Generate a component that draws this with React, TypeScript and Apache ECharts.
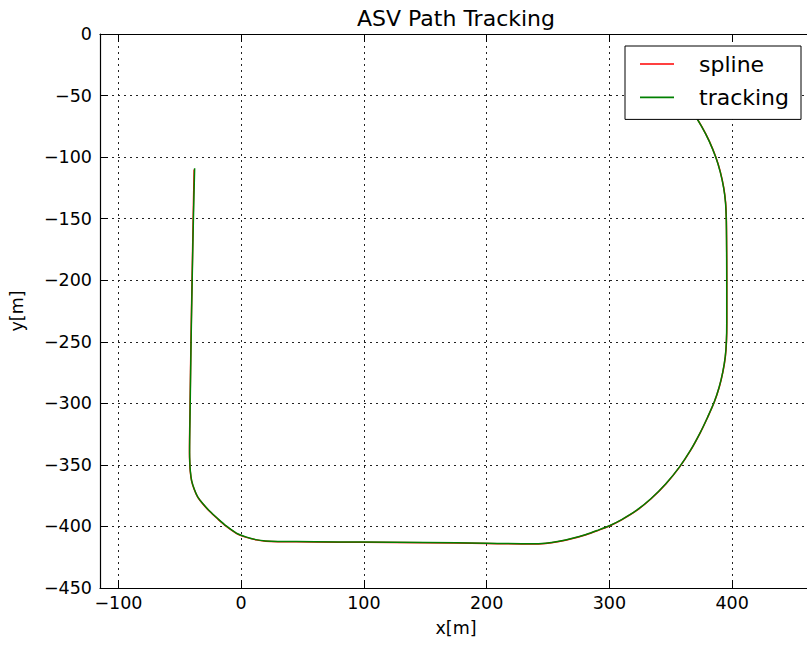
import React, { useEffect, useRef } from "react";
import * as echarts from "echarts";

const TITLE = "ASV Path Tracking";
const X_NAME = "x[m]";
const Y_NAME = "y[m]";
const SERIES_NAMES = ["spline", "tracking"];

// Spline path points [x, y]
const splinePath: number[][] = [
  [-38.3, -110], [-39.1, -150], [-40.0, -200], [-40.9, -250], [-41.6, -300],
  [-42.1, -340], [-41.9, -348], [-41.5, -355], [-40.4, -363], [-38.2, -370],
  [-35.5, -376], [-31.0, -382], [-26.0, -387.5], [-19.0, -394], [-12.0, -400],
  [-4.0, -405.6], [4.3, -408.9], [12, -410.9], [20, -412], [30, -412.4],
  [60, -412.6], [100, -412.9], [150, -413.3], [200, -413.8], [236, -414.3],
  [248, -413.8], [259, -412.2], [270, -409.8], [281, -406.7], [290, -403.5],
  [300, -399.6], [310, -394.6], [322, -387.2], [334, -377.5], [346, -365.5],
  [357, -352], [366, -338.5], [374, -324], [380, -311.5], [385.5, -299],
  [389.5, -287], [392.5, -274.5], [394.5, -262], [395.4, -250], [395.7, -235],
  [395.7, -200], [395.5, -165], [395.3, -150], [394.7, -137], [393.2, -125],
  [390.4, -112], [386.7, -100], [381.4, -87], [375.2, -75], [368.9, -65],
  [358.9, -52], [347.3, -40],
];

// Tracked path points [x, y]
const trackingPath: number[][] = [
  [-37.9, -109], [-38.9, -150], [-39.9, -200], [-40.8, -250], [-41.5, -300],
  [-42.0, -340], [-41.8, -348], [-41.4, -355], [-40.3, -363], [-38.1, -370],
  [-35.4, -375.9], [-30.9, -381.8], [-25.9, -387.3], [-18.9, -393.8], [-11.9, -399.8],
  [-3.9, -405.4], [4.4, -408.7], [12, -410.7], [20, -411.8], [30, -412.2],
  [60, -412.4], [100, -412.7], [150, -413.1], [200, -413.6], [236, -414.1],
  [248, -413.6], [259, -412.0], [270, -409.6], [281, -406.5], [290, -403.3],
  [300, -399.4], [310, -394.4], [322, -387.0], [334, -377.3], [346, -365.3],
  [357, -351.8], [366, -338.3], [374, -323.8], [380, -311.3], [385.4, -299],
  [389.4, -287], [392.4, -274.5], [394.4, -262], [395.3, -250], [395.6, -235],
  [395.6, -200], [395.4, -165], [395.2, -150], [394.6, -137], [393.1, -125],
  [390.3, -112], [386.6, -100], [381.3, -87], [375.1, -75], [368.8, -65],
  [358.8, -52], [347.2, -40],
];

const Y_TICKS_INTERVAL = 50;
const X_TICK_STEP = 100;

const FONT = "DejaVu Sans";
const minus = (v: number) => String(v).replace("-", "\u2212");

export default function App() {
  const ref = useRef<HTMLDivElement>(null);
  useEffect(() => {
    if (!ref.current) return;
    const chart = echarts.init(ref.current, undefined, { renderer: "svg" });
    const tickStyle = { color: "#000", fontFamily: FONT, fontSize: 17.5 };
    const gridDots = { color: "#222", width: 1, type: [2, 4] as number[] };
    chart.setOption({
      animation: false,
      backgroundColor: "#fff",
      grid: { left: 100, right: -1, top: 34, bottom: 61, containLabel: false },
      xAxis: [
        {
          type: "value",
          min: -115,
          max: 461,
          position: "bottom",
          axisLine: { show: true, onZero: false, lineStyle: { color: "#000", width: 1.2 } },
          axisTick: { show: true, inside: true, length: 8, lineStyle: { color: "#000", width: 1 } },
          axisLabel: {
            ...tickStyle,
            margin: 6,
            showMinLabel: false,
            showMaxLabel: false,
            formatter: (v: number) => (v % X_TICK_STEP === 0 ? minus(v) : ""),
          },
          splitLine: { show: true, lineStyle: gridDots },
        },
        {
          type: "value",
          min: -115,
          max: 461,
          position: "top",
          axisLine: { show: true, onZero: false, lineStyle: { color: "#000", width: 1.2 } },
          axisTick: { show: true, inside: true, length: 8, lineStyle: { color: "#000", width: 1 } },
          axisLabel: { show: false },
          splitLine: { show: false },
        },
      ],
      yAxis: {
        type: "value",
        min: -450,
        max: 0,
        interval: Y_TICKS_INTERVAL,
        axisLine: { show: true, onZero: false, lineStyle: { color: "#000", width: 1.2 } },
        axisTick: { show: true, inside: true, length: 8, lineStyle: { color: "#000", width: 1 } },
        axisLabel: { ...tickStyle, margin: 8, formatter: (v: number) => minus(v) },
        splitLine: { show: true, lineStyle: gridDots },
      },
      legend: {
        orient: "vertical",
        left: 625,
        top: 46,
        padding: [6, 12, 10, 15],
        itemGap: 9.4,
        itemWidth: 34,
        itemHeight: 1.6,
        icon: "rect",
        borderColor: "#000",
        borderWidth: 1,
        borderRadius: 0,
        backgroundColor: "#fff",
        textStyle: { fontFamily: FONT, fontSize: 22, color: "#000", lineHeight: 24, padding: [0, 0, 0, 20] },
        data: SERIES_NAMES,
        z: 10,
      },
      graphic: [
        {
          type: "text",
          x: 456,
          y: 18,
          style: { text: TITLE, font: `22px '${FONT}'`, fill: "#000", textAlign: "center", textVerticalAlign: "middle" },
        },
        {
          type: "text",
          x: 456,
          y: 628,
          style: { text: X_NAME, font: `17.5px '${FONT}'`, fill: "#000", textAlign: "center", textVerticalAlign: "middle" },
        },
        {
          type: "text",
          x: 17,
          y: 311,
          rotation: Math.PI / 2,
          style: { text: Y_NAME, font: `17.5px '${FONT}'`, fill: "#000", textAlign: "center", textVerticalAlign: "middle" },
        },
      ],
      series: [
        {
          name: SERIES_NAMES[0],
          type: "line",
          xAxisIndex: 0,
          data: splinePath,
          showSymbol: false,
          smooth: 0.3,
          lineStyle: { color: "#ff0000", width: 1.5 },
          itemStyle: { color: "#ff0000" },
          z: 2,
        },
        {
          name: SERIES_NAMES[1],
          type: "line",
          xAxisIndex: 0,
          data: trackingPath,
          showSymbol: false,
          smooth: 0.3,
          lineStyle: { color: "#008000", width: 1.5 },
          itemStyle: { color: "#008000" },
          z: 3,
        },
      ],
    });
    return () => chart.dispose();
  }, []);
  return (
    <div
      ref={ref}
      style={{ position: "fixed", left: 0, top: 0, width: 807, height: 649, background: "#fff" }}
    />
  );
}
